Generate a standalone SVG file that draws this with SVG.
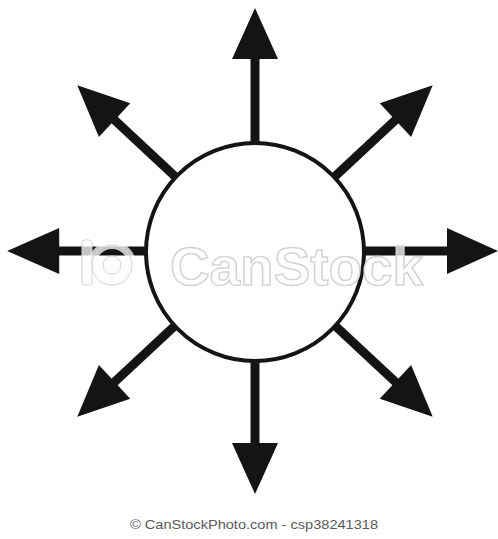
<svg xmlns="http://www.w3.org/2000/svg" xmlns:xlink="http://www.w3.org/1999/xlink" width="498" height="539" viewBox="0 0 498 539">
  <style>
    .line { fill: #141414; }
    .node { fill: #ffffff; stroke: #141414; stroke-width: 4; }
    .wm { font-family: "Liberation Sans", Arial, sans-serif; font-weight: bold; fill: #ffffff; fill-opacity: 0.75; stroke: #d4d4d4; stroke-width: 1.5; }
    .foot { font-family: "Liberation Sans", Arial, sans-serif; font-size: 13px; fill: #5a5a5a; }
  </style>
  <defs>
    <g id="arrow">
      <rect class="line" x="-4.5" y="-195" width="9" height="88"/>
      <polygon class="line" points="0,-243 -23,-192 23,-192"/>
    </g>
  </defs>
  <rect width="498" height="539" fill="#ffffff"/>
  <g id="connectors">
    <use xlink:href="#arrow" transform="translate(255,251) rotate(0)"/>
    <use xlink:href="#arrow" transform="translate(255,251) rotate(47)"/>
    <use xlink:href="#arrow" transform="translate(255,251) rotate(90)"/>
    <use xlink:href="#arrow" transform="translate(255,251) rotate(133)"/>
    <use xlink:href="#arrow" transform="translate(255,251) rotate(180)"/>
    <use xlink:href="#arrow" transform="translate(255,251) rotate(227)"/>
    <use xlink:href="#arrow" transform="translate(255,251) rotate(270) scale(1,1.02)"/>
    <use xlink:href="#arrow" transform="translate(255,251) rotate(313)"/>
  </g>
  <g id="center">
    <circle class="node" cx="255" cy="252" r="109"/>
  </g>
  <g id="watermark">
    <circle cx="112" cy="265" r="20" fill="none" stroke="#ffffff" stroke-opacity="0.75" stroke-width="8"/>
    <circle cx="112" cy="265" r="20" fill="none" stroke="#d4d4d4" stroke-width="1"/>
    <circle cx="112" cy="265" r="9" fill="#ffffff" fill-opacity="0.75" stroke="#d4d4d4" stroke-width="1"/>
    <rect x="82" y="240" width="10" height="45" rx="3" fill="#ffffff" fill-opacity="0.75" stroke="#d4d4d4" stroke-width="1"/>
    <text class="wm" x="170" y="285" font-size="53" textLength="253" lengthAdjust="spacingAndGlyphs">CanStock</text>
  </g>
  <text class="foot" x="130" y="529" textLength="248" lengthAdjust="spacingAndGlyphs">© CanStockPhoto.com - csp38241318</text>
</svg>
